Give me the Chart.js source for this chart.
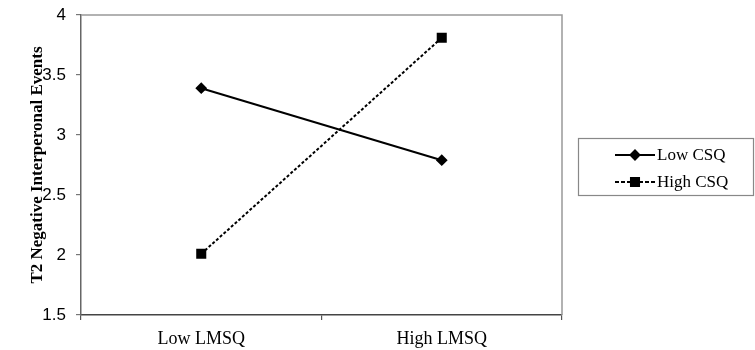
<!DOCTYPE html>
<html>
<head>
<meta charset="utf-8">
<script src="https://cdn.jsdelivr.net/npm/chart.js@4"></script>
<style>
  html, body { margin: 0; padding: 0; background: #fff; }
</style>
</head>
<body>
<canvas id="chart" width="755" height="350"></canvas>
<script>
// values
const categories = ['Low LMSQ', 'High LMSQ'];
const lowCSQ = [3.39, 2.79];
const highCSQ = [2.01, 3.81];
const seriesNames = ['Low CSQ', 'High CSQ'];
const yMin = 1.5, yMax = 4, yStep = 0.5;
const yTitle = 'T2 Negative Interperonal Events';

const serif = '"Liberation Serif", "Times New Roman", serif';
const sans = '"Liberation Sans", Arial, sans-serif';

// frame (top/right) + boxed legend with line+marker samples
const extras = {
  id: 'extras',
  afterDraw(chart) {
    const ctx = chart.ctx;
    const a = chart.chartArea;
    ctx.save();
    ctx.strokeStyle = '#999';
    ctx.lineWidth = 1.5;
    ctx.beginPath();
    ctx.moveTo(a.left, a.top);
    ctx.lineTo(a.right, a.top);
    ctx.lineTo(a.right, a.bottom);
    ctx.stroke();

    // legend box
    ctx.strokeStyle = '#888';
    ctx.lineWidth = 1.2;
    ctx.strokeRect(578.5, 138.5, 175, 57);
    const rows = [155, 182];
    chart.data.datasets.forEach((ds, i) => {
      const y = rows[i];
      ctx.strokeStyle = ds.borderColor;
      ctx.lineWidth = ds.borderWidth;
      ctx.setLineDash(i ? [4, 2] : []);
      ctx.beginPath();
      ctx.moveTo(615, y);
      ctx.lineTo(655, y);
      ctx.stroke();
      ctx.setLineDash([]);
      Chart.helpers.drawPoint(ctx, {
        pointStyle: ds.pointStyle, radius: ds.pointRadius, borderWidth: 1
      }, 635, y);
      ctx.fillStyle = '#000';
      ctx.fill();
      ctx.font = '17px ' + serif;
      ctx.textBaseline = 'middle';
      ctx.textAlign = 'left';
      ctx.fillText(ds.label, 657, y + 1);
    });
    ctx.restore();
  }
};

new Chart(document.getElementById('chart').getContext('2d'), {
  type: 'line',
  data: {
    labels: categories,
    datasets: [{
      label: seriesNames[0],
      data: lowCSQ,
      borderColor: '#000',
      backgroundColor: '#000',
      borderWidth: 2,
      pointStyle: 'rectRot',
      pointRadius: 4.5,
      pointBackgroundColor: '#000',
      pointBorderColor: '#000'
    }, {
      label: seriesNames[1],
      data: highCSQ,
      borderColor: '#000',
      backgroundColor: '#000',
      borderWidth: 2,
      borderDash: [3, 2],
      pointStyle: 'rect',
      pointRadius: 5.7,
      pointBackgroundColor: '#000',
      pointBorderColor: '#000'
    }]
  },
  options: {
    responsive: false,
    animation: false,
    devicePixelRatio: 1,
    layout: { padding: { left: 0, top: 15, right: 193, bottom: 0 } },
    plugins: { legend: { display: false }, tooltip: { enabled: false } },
    scales: {
      x: {
        offset: true,
        grid: { display: true, drawOnChartArea: false, offset: true, tickLength: 5, color: '#555', lineWidth: 1.2 },
        border: { color: '#444', width: 1.5 },
        ticks: { color: '#000', font: { family: serif, size: 18 }, padding: 8, maxRotation: 0 },
        afterFit(scale) { scale.height = 35; scale.paddingLeft = 0; scale.paddingRight = 0; }
      },
      y: {
        min: yMin,
        max: yMax,
        ticks: { stepSize: yStep, color: '#000', font: { family: sans, size: 17 }, padding: 10, callback: v => String(v) },
        grid: { display: true, drawOnChartArea: false, tickLength: 5, color: '#777', lineWidth: 1.2 },
        border: { color: '#666', width: 1.5 },
        title: {
          display: true,
          text: yTitle,
          color: '#000',
          font: { family: serif, size: 17, weight: 'bold' },
          padding: { top: 27, bottom: 0 }
        },
        afterFit(scale) { scale.width = 81; scale.paddingTop = 0; scale.paddingBottom = 0; }
      }
    }
  },
  plugins: [extras]
});
</script>
</body>
</html>
